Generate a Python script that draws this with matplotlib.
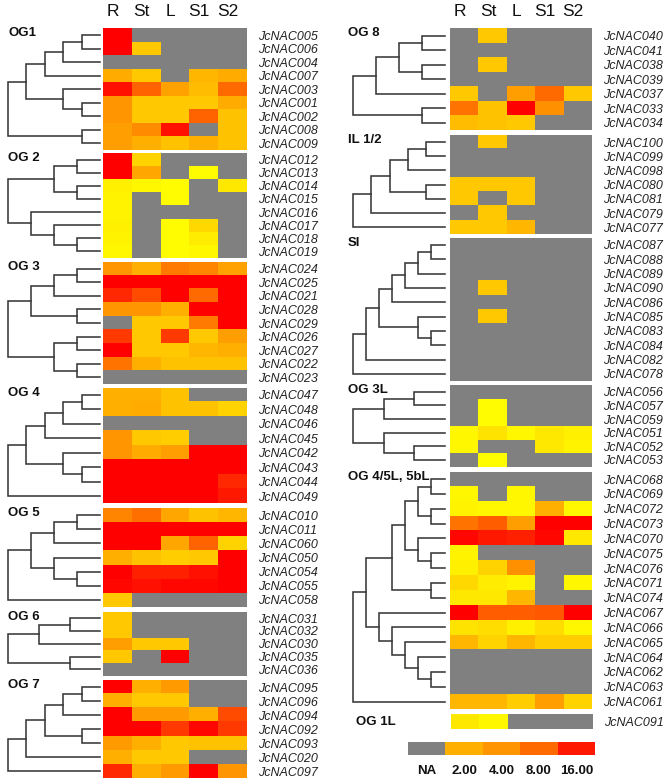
import numpy as np
import matplotlib
matplotlib.use('Agg')
import matplotlib.pyplot as plt
from matplotlib.colors import LinearSegmentedColormap

plt.rcParams['font.family'] = ['Liberation Sans', 'DejaVu Sans']

NA = np.nan
tissues = ['R', 'St', 'L', 'S1', 'S2']

# colour level per cell (log-like scale, 0 = yellow ... 4.5 = red), NA = not expressed
# trees are nested pairs of JcNAC numbers; row order = leaf order

# ---- left column ----
og1_tree = (((((5, 6), 4), 7), (3, (1, 2))), (8, 9))
og1_vals = [[4.5, NA, NA, NA, NA],
            [4.5, 1.2, NA, NA, NA],
            [NA, NA, NA, NA, NA],
            [1.7, 1.2, NA, 1.5, 1.7],
            [4.3, 3.1, 1.9, 1.4, 3.0],
            [2.2, 1.2, 1.2, 1.2, 1.7],
            [2.2, 1.2, 1.2, 3.1, 1.3],
            [2.0, 2.4, 4.3, NA, 1.3],
            [2.0, 1.6, 1.3, 1.6, 1.3]]

og2_tree = (((12, 13), (14, 15)), (16, (17, (18, 19))))
og2_vals = [[4.5, 1.0, NA, NA, NA],
            [4.5, 1.8, NA, 0.1, NA],
            [0.4, 0.2, 0.1, NA, 0.6],
            [0.3, NA, 0.1, NA, NA],
            [0.3, NA, NA, NA, NA],
            [0.4, NA, 0.1, 0.9, NA],
            [0.3, NA, 0.1, 0.5, NA],
            [0.2, NA, 0.1, 0.2, NA]]

og3_tree = ((((24, 25), 21), (28, 29)), ((26, 27), (22, 23)))
og3_vals = [[2.2, 1.6, 2.7, 2.5, 1.9],
            [4.5, 4.5, 4.5, 4.5, 4.5],
            [4.0, 3.5, 4.5, 3.0, 4.5],
            [2.2, 2.2, 1.6, 4.5, 4.5],
            [NA, 1.2, 1.2, 2.7, 4.5],
            [3.8, 1.2, 3.8, 1.2, 2.0],
            [4.5, 1.2, 1.2, 1.5, 1.6],
            [2.8, 1.6, 1.3, 1.3, 1.3],
            [NA, NA, NA, NA, NA]]

og4_tree = (((((47, 48), 46), 45), (42, (43, 44))), 49)
og4_vals = [[1.6, 1.6, 1.3, NA, NA],
            [1.6, 1.7, 1.3, 1.3, 1.0],
            [NA, NA, NA, NA, NA],
            [2.2, 1.2, 1.1, NA, NA],
            [2.2, 1.7, 2.0, 4.5, 4.5],
            [4.5, 4.5, 4.5, 4.5, 4.5],
            [4.5, 4.5, 4.5, 4.5, 4.0],
            [4.5, 4.5, 4.5, 4.5, 4.2]]

og5_tree = ((((10, 11), 60), (50, (54, 55))), 58)
og5_vals = [[2.5, 2.9, 1.8, 1.3, 1.5],
            [4.5, 4.5, 4.5, 4.5, 4.5],
            [4.5, 4.5, 1.8, 3.1, 1.0],
            [1.6, 1.3, 1.1, 1.2, 4.5],
            [4.5, 4.1, 4.1, 4.3, 4.5],
            [4.4, 4.3, 4.4, 4.4, 4.5],
            [1.2, NA, NA, NA, NA]]

og6_tree = (((31, 32), 30), (35, 36))
og6_vals = [[1.2, NA, NA, NA, NA],
            [1.2, NA, NA, NA, NA],
            [2.0, 1.2, 1.2, NA, NA],
            [1.2, NA, 4.5, NA, NA],
            [NA, NA, NA, NA, NA]]

og7_tree = (((((95, 96), 94), (92, 93)), 20), 97)
og7_vals = [[4.5, 1.6, 2.1, NA, NA],
            [1.6, 1.2, 1.2, NA, NA],
            [4.5, 2.1, 2.1, 1.6, 3.5],
            [4.5, 4.5, 3.8, 4.4, 3.8],
            [2.1, 1.6, 1.2, 1.3, 1.3],
            [1.6, 1.2, 1.2, NA, NA],
            [4.0, 1.6, 2.1, 4.5, 2.2]]

# ---- right column ----
og8_tree = ((((40, 41), (38, 39)), 37), (33, 34))
og8_vals = [[NA, 1.2, NA, NA, NA],
            [NA, NA, NA, NA, NA],
            [NA, 1.2, NA, NA, NA],
            [NA, NA, NA, NA, NA],
            [1.2, NA, 2.0, 3.0, 1.2],
            [2.8, 1.3, 4.5, 2.3, NA],
            [1.4, 1.3, 1.2, NA, NA]]

il_tree = (((((100, 99), 98), (80, 81)), 79), 77)
il_vals = [[NA, 1.2, NA, NA, NA],
           [NA, NA, NA, NA, NA],
           [NA, NA, NA, NA, NA],
           [1.2, 1.2, 1.2, NA, NA],
           [1.2, NA, 1.2, NA, NA],
           [NA, 1.2, NA, NA, NA],
           [1.2, 1.2, 1.5, NA, NA]]

si_tree = (((((((87, 88), 89), 90), 86), (85, (83, 84))), 82), 78)
si_vals = [[NA, NA, NA, NA, NA],
           [NA, NA, NA, NA, NA],
           [NA, NA, NA, NA, NA],
           [NA, 1.2, NA, NA, NA],
           [NA, NA, NA, NA, NA],
           [NA, 1.2, NA, NA, NA],
           [NA, NA, NA, NA, NA],
           [NA, NA, NA, NA, NA],
           [NA, NA, NA, NA, NA],
           [NA, NA, NA, NA, NA]]

og3l_tree = (((56, 57), 59), (51, (52, 53)))
og3l_vals = [[NA, NA, NA, NA, NA],
             [NA, 0.1, NA, NA, NA],
             [NA, 0.1, NA, NA, NA],
             [0.2, 0.7, 0.2, 0.6, 0.4],
             [0.2, NA, NA, 0.6, 0.3],
             [NA, 0.1, NA, NA, NA]]

og45_tree = ((((((68, 69), (72, 73)), (70, (75, 76))), (71, 74)),
              (67, (66, (65, (64, (62, 63)))))), 61)
og45_vals = [[NA, NA, NA, NA, NA],
             [0.2, NA, 0.2, NA, NA],
             [0.3, 0.2, 0.2, 1.6, 0.2],
             [2.8, 3.2, 2.0, 4.5, 4.5],
             [4.4, 4.2, 4.1, 4.4, 0.6],
             [0.3, NA, NA, NA, NA],
             [0.4, 1.0, 2.3, NA, NA],
             [0.9, 0.5, 0.3, NA, 0.2],
             [0.6, 0.6, 1.5, NA, NA],
             [4.5, 3.2, 3.2, 3.3, 4.5],
             [0.7, 0.8, 0.4, 0.8, 0.2],
             [1.5, 1.0, 1.5, 1.1, 1.1],
             [NA, NA, NA, NA, NA],
             [NA, NA, NA, NA, NA],
             [NA, NA, NA, NA, NA],
             [1.5, 1.5, 1.1, 2.0, 1.0]]

og1l_genes = [91]
og1l_vals = [[0.6, 0.2, NA, NA, NA]]

legend_labels = ['NA', '2.00', '4.00', '8.00', '16.00']
legend_levels = [NA, 1.6, 2.2, 3.0, 4.2]

# ---- style / layout (pixels) ----
W, H = 666, 784
GRAY = '#808080'
LINE = '#383838'
cmap = LinearSegmentedColormap.from_list('ylor', [
    (0.0, '#FFFF00'), (0.6 / 4.5, '#FFE800'), (1.2 / 4.5, '#FFC800'),
    (1.6 / 4.5, '#FFB000'), (2.2 / 4.5, '#FF9600'), (3.0 / 4.5, '#FF6A00'),
    (3.8 / 4.5, '#FF3A00'), (1.0, '#FF0000')])
cmap.set_bad(GRAY)

fig = plt.figure(figsize=(W / 100, H / 100), dpi=100)


def box(x0, y0, x1, y1):
    return fig.add_axes([x0 / W, 1 - y1 / H, (x1 - x0) / W, (y1 - y0) / H])


def leaves(t):
    if isinstance(t, tuple):
        return leaves(t[0]) + leaves(t[1])
    return [t]


def depth(t):
    if isinstance(t, tuple):
        return 1 + max(depth(t[0]), depth(t[1]))
    return 0


def draw_tree(ax, t, order):
    if not isinstance(t, tuple):
        return order.index(t) + 0.5, 0
    ya, ha = draw_tree(ax, t[0], order)
    yb, hb = draw_tree(ax, t[1], order)
    h = max(ha, hb) + 1
    ax.plot([ha, h, h, hb], [ya, ya, yb, yb], color=LINE, lw=1.15,
            clip_on=False, solid_joinstyle='miter')
    return (ya + yb) / 2, h


def group(label, tree, vals, genes, hx0, hx1, top, bot, dx0, dx1, header=False,
          lab_xy=None):
    vals = np.array(vals, dtype=float)
    n = len(vals)
    ax = box(hx0, top, hx1, bot)
    ax.imshow(np.ma.masked_invalid(vals), cmap=cmap, vmin=0, vmax=4.5,
              aspect='auto', interpolation='nearest', extent=(0, 5, n, 0))
    for s in ax.spines.values():
        s.set_visible(False)
    ax.set_yticks(np.arange(n) + 0.5)
    ax.set_yticklabels(['JcNAC%03d' % g for g in genes], fontstyle='italic',
                       fontsize=9, color='#222222')
    ax.yaxis.tick_right()
    ax.tick_params(axis='y', length=0, pad=8)
    if header:
        ax.xaxis.tick_top()
        ax.set_xticks(np.arange(5) + 0.33)
        ax.set_xticklabels(tissues, fontsize=12.5, color='#111111')
        ax.tick_params(axis='x', length=0, pad=7)
    else:
        ax.set_xticks([])
    if tree is not None:
        dax = box(dx0, top, dx1, bot)
        dax.set_xlim(depth(tree), 0)
        dax.set_ylim(n, 0)
        dax.axis('off')
        draw_tree(dax, tree, genes)
    lx, ly = lab_xy if lab_xy else (dx0 + 1, top + 5)
    fig.text(lx / W, 1 - ly / H, label, fontsize=9.5, fontweight='bold',
             ha='left', va='center', color='#111111')


left = [('OG1', og1_tree, og1_vals, 28.3, 150.0),
        ('OG 2', og2_tree, og2_vals, 153.3, 257.7),
        ('OG 3', og3_tree, og3_vals, 261.7, 384.3),
        ('OG 4', og4_tree, og4_vals, 387.7, 503.3),
        ('OG 5', og5_tree, og5_vals, 508.3, 606.7),
        ('OG 6', og6_tree, og6_vals, 611.7, 675.7),
        ('OG 7', og7_tree, og7_vals, 680.0, 778.3)]
for i, (lab, tr, v, t, b) in enumerate(left):
    group(lab, tr, v, leaves(tr), 103.3, 247.0, t, b, 7.5, 100.5,
          header=(i == 0))

right = [('OG 8', og8_tree, og8_vals, 28.3, 130.0),
         ('IL 1/2', il_tree, il_vals, 135.0, 234.3),
         ('SI', si_tree, si_vals, 237.7, 381.0),
         ('OG 3L', og3l_tree, og3l_vals, 385.0, 466.7),
         ('OG 4/5L, 5bL', og45_tree, og45_vals, 471.7, 709.0)]
for i, (lab, tr, v, t, b) in enumerate(right):
    group(lab, tr, v, leaves(tr), 450.3, 592.3, t, b, 353.0, 444.5,
          header=(i == 0), lab_xy=(348, t + 5))

group('OG 1L', None, og1l_vals, og1l_genes, 451.3, 593.0, 714.3, 729.0,
      0, 0, lab_xy=(356, 722))

# legend bar
lax = box(408, 742, 595, 755)
lax.imshow(np.ma.masked_invalid([legend_levels]), cmap=cmap, vmin=0, vmax=4.5,
           aspect='auto', interpolation='nearest', extent=(0, 5, 1, 0))
for s in lax.spines.values():
    s.set_visible(False)
lax.set_yticks([])
lax.set_xticks(np.arange(5) + 0.5)
lax.set_xticklabels(legend_labels, fontsize=9.5, fontweight='bold',
                    color='#111111')
lax.tick_params(axis='x', length=0, pad=7)

fig.savefig('out.png', dpi=100)
